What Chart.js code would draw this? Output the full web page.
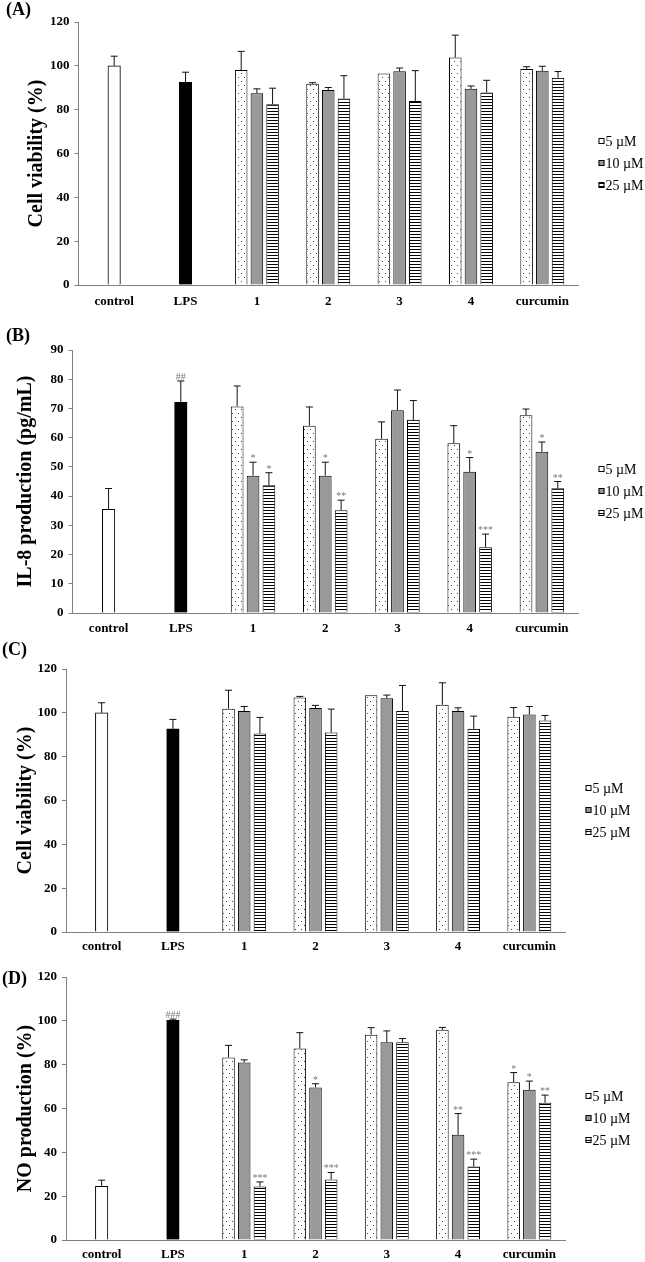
<!DOCTYPE html>
<html>
<head>
<meta charset="utf-8">
<script src="https://cdn.jsdelivr.net/npm/chart.js@4.4.1/dist/chart.umd.min.js"></script>
<style>
  html, body { margin: 0; padding: 0; background: #fff; }
  #wrap { position: relative; width: 645px; height: 1262px; }
  #wrap canvas { position: absolute; left: 0; top: 0; }
</style>
</head>
<body>
<div id="wrap">
  <canvas id="chartA" width="645" height="1262"></canvas>
  <canvas id="chartB" width="645" height="1262"></canvas>
  <canvas id="chartC" width="645" height="1262"></canvas>
  <canvas id="chartD" width="645" height="1262"></canvas>
</div>
<script>
const categories = ['control', 'LPS', '1', '2', '3', '4', 'curcumin'];
const doseLabels = ['5 µM', '10 µM', '25 µM'];

// (A) cell viability
const aRef = [100, 92.5];
const aRefErr = [4.4, 4.6];
const a5 = [98.1, 91.8, 96.5, 103.8, 98.6];
const a5Err = [8.5, 0.5, 0, 10.2, 1.0];
const a10 = [87.5, 89.0, 97.5, 89.5, 97.7];
const a10Err = [2.0, 1.1, 1.5, 1.3, 2.1];
const a25 = [82.5, 85.1, 84.0, 87.8, 94.6];
const a25Err = [7.3, 10.4, 13.8, 5.6, 2.8];

// (B) IL-8 production
const bRef = [35.5, 72.1];
const bRefErr = [7.1, 7.3];
const bRefSig = ['', '##'];
const b5 = [70.7, 64.1, 59.6, 58.1, 67.7];
const b5Err = [7.0, 6.4, 5.8, 6.0, 2.1];
const b5Sig = ['', '', '', '', ''];
const b10 = [47.0, 47.0, 69.4, 48.3, 55.2];
const b10Err = [4.6, 4.6, 6.9, 4.9, 3.3];
const b10Sig = ['*', '*', '', '*', '*'];
const b25 = [43.7, 35.2, 66.1, 22.5, 42.7];
const b25Err = [4.3, 3.4, 6.6, 4.5, 2.3];
const b25Sig = ['*', '**', '', '***', '**'];

// (C) cell viability
const cRef = [100, 92.7];
const cRefErr = [4.6, 4.3];
const c5 = [101.9, 107.0, 108.0, 103.7, 98.2];
const c5Err = [8.4, 0.5, 0, 10.0, 4.2];
const c10 = [100.8, 102.2, 106.6, 100.8, 99.2];
const c10Err = [2.1, 1.2, 1.5, 1.5, 3.7];
const c25 = [90.6, 91.0, 100.8, 92.7, 96.5];
const c25Err = [7.3, 10.7, 11.7, 5.8, 2.3];

// (D) NO production
const dRef = [24.5, 100.2];
const dRefErr = [2.8, 0.6];
const dRefSig = ['', '###'];
const d5 = [83.3, 87.4, 93.7, 95.9, 72.0];
const d5Err = [5.5, 7.2, 3.2, 1.1, 4.4];
const d5Sig = ['', '', '', '', '*'];
const d10 = [81.0, 69.6, 90.2, 48.0, 68.5];
const d10Err = [1.2, 1.7, 5.2, 9.7, 4.0];
const d10Sig = ['', '*', '', '**', '*'];
const d25 = [24.4, 27.6, 90.2, 33.5, 62.6];
const d25Err = [2.1, 3.2, 1.7, 3.4, 3.5];
const d25Sig = ['***', '***', '', '***', '**'];

const SERIF = '"Liberation Serif", "Times New Roman", serif';

function dotPattern(ctx) {
  const c = document.createElement('canvas');
  c.width = 6; c.height = 8;
  const g = c.getContext('2d');
  g.fillStyle = '#fff';
  g.fillRect(0, 0, 6, 8);
  g.fillStyle = '#444';
  g.fillRect(1, 1, 1, 1);
  g.fillRect(4, 5, 1, 1);
  return ctx.createPattern(c, 'repeat');
}

function stripePattern(ctx) {
  const c = document.createElement('canvas');
  c.width = 4; c.height = 3;
  const g = c.getContext('2d');
  g.fillStyle = '#fff';
  g.fillRect(0, 0, 4, 3);
  g.fillStyle = '#000';
  g.fillRect(0, 0, 4, 1);
  return ctx.createPattern(c, 'repeat');
}

// error bars, significance marks, panel letter and legend
const overlay = {
  id: 'overlay',
  afterDatasetsDraw(chart) {
    const ctx = chart.ctx;
    const yScale = chart.scales.y;
    ctx.save();
    chart.data.datasets.forEach((ds, i) => {
      const meta = chart.getDatasetMeta(i);
      meta.data.forEach((bar, j) => {
        const v = ds.data[j];
        if (v == null) return;
        const e = ds.errors[j] || 0;
        const yTop = yScale.getPixelForValue(v + e);
        if (e > 0) {
          ctx.strokeStyle = '#111';
          ctx.lineWidth = 1;
          ctx.beginPath();
          ctx.moveTo(bar.x, bar.y);
          ctx.lineTo(bar.x, yTop);
          ctx.moveTo(bar.x - 3.5, yTop);
          ctx.lineTo(bar.x + 3.5, yTop);
          ctx.stroke();
        }
        const s = ds.sig ? ds.sig[j] : '';
        if (s) {
          ctx.fillStyle = '#777';
          ctx.font = '10px ' + SERIF;
          ctx.textAlign = 'center';
          ctx.textBaseline = 'alphabetic';
          ctx.fillText(s, bar.x, yTop - 1);
        }
      });
    });
    ctx.restore();
  },
  afterDraw(chart, args, opts) {
    const ctx = chart.ctx;
    const area = chart.chartArea;
    ctx.save();
    ctx.fillStyle = '#000';
    ctx.font = 'bold 18px ' + SERIF;
    ctx.textAlign = 'left';
    ctx.textBaseline = 'middle';
    ctx.fillText(opts.letter, opts.letterX, opts.letterY);

    const x0 = area.right + 20.5;
    const mid = (area.top + area.bottom) / 2 + 9.5;
    const items = chart.data.datasets.filter(ds => ds.grouped !== false);
    ctx.font = '14px ' + SERIF;
    items.forEach((ds, k) => {
      const yy = Math.round(mid + (k - 1) * 22);
      ctx.fillStyle = ds.backgroundColor;
      ctx.fillRect(x0, yy - 3, 6, 6);
      ctx.strokeStyle = '#000';
      ctx.lineWidth = 1;
      ctx.strokeRect(x0 + 0.5, yy - 2.5, 5, 5);
      ctx.fillStyle = '#000';
      ctx.fillText(ds.label, x0 + 7, yy + 1);
    });
    ctx.restore();
  }
};

function buildChart(id, p) {
  const canvas = document.getElementById(id);
  const ctx = canvas.getContext('2d');
  const fills = [dotPattern(ctx), '#999999', stripePattern(ctx)];
  const pad = arr => [null, null].concat(arr);
  const series = [[p.v5, p.e5, p.s5], [p.v10, p.e10, p.s10], [p.v25, p.e25, p.s25]];

  const datasets = [{
    label: 'reference',
    data: p.ref.concat([null, null, null, null, null]),
    errors: p.refErr,
    sig: p.refSig || [],
    grouped: false,
    barThickness: 12.5,
    backgroundColor: ['#ffffff', '#000000'],
    borderColor: '#000',
    borderWidth: 1
  }];
  series.forEach((s, k) => {
    datasets.push({
      label: doseLabels[k],
      data: pad(s[0]),
      errors: pad(s[1]),
      sig: s[2] ? pad(s[2]) : [],
      backgroundColor: fills[k],
      borderColor: '#000',
      borderWidth: 1,
      categoryPercentage: 0.66,
      barPercentage: 0.8
    });
  });

  const L = p.layout;
  new Chart(ctx, {
    type: 'bar',
    data: { labels: categories, datasets },
    options: {
      responsive: false,
      animation: false,
      events: [],
      layout: {
        padding: {
          left: L.titleX - 12,
          right: 645 - L.right,
          top: L.top,
          bottom: 1262 - L.bottom - 30
        }
      },
      plugins: {
        legend: { display: false },
        tooltip: { enabled: false },
        overlay: { letter: L.letter, letterX: L.letterX, letterY: L.letterY }
      },
      scales: {
        x: {
          grid: { display: false, drawTicks: false },
          border: { display: true, color: '#808080', width: 1 },
          ticks: {
            color: '#000',
            padding: L.labelPad,
            font: { family: SERIF, size: 13, weight: 'bold' }
          },
          afterFit: sc => { sc.height = 30; }
        },
        y: {
          min: 0,
          max: p.yMax,
          ticks: {
            stepSize: p.yStep,
            color: '#000',
            padding: 5,
            font: { family: SERIF, size: 13, weight: 'bold' }
          },
          grid: { drawOnChartArea: false, drawTicks: true, tickLength: 4, color: '#808080' },
          border: { display: true, color: '#808080', width: 1 },
          title: {
            display: true,
            text: p.yTitle,
            color: '#000',
            padding: 0,
            font: { family: SERIF, size: 20, weight: 'bold' }
          },
          afterFit: sc => { sc.width = L.left - (L.titleX - 12); }
        }
      }
    },
    plugins: [overlay]
  });
}

buildChart('chartA', {
  ref: aRef, refErr: aRefErr,
  v5: a5, e5: a5Err, v10: a10, e10: a10Err, v25: a25, e25: a25Err,
  yMax: 120, yStep: 20, yTitle: 'Cell viability (%)',
  layout: { left: 78.5, right: 578, top: 22, bottom: 285, titleX: 37, labelPad: 9,
            letter: '(A)', letterX: 6, letterY: 10 }
});

buildChart('chartB', {
  ref: bRef, refErr: bRefErr, refSig: bRefSig,
  v5: b5, e5: b5Err, s5: b5Sig, v10: b10, e10: b10Err, s10: b10Sig, v25: b25, e25: b25Err, s25: b25Sig,
  yMax: 90, yStep: 10, yTitle: 'IL-8 production (pg/mL)',
  layout: { left: 72.5, right: 578, top: 350, bottom: 613, titleX: 26, labelPad: 8,
            letter: '(B)', letterX: 6, letterY: 336 }
});

buildChart('chartC', {
  ref: cRef, refErr: cRefErr,
  v5: c5, e5: c5Err, v10: c10, e10: c10Err, v25: c25, e25: c25Err,
  yMax: 120, yStep: 20, yTitle: 'Cell viability (%)',
  layout: { left: 66, right: 565, top: 669, bottom: 932, titleX: 26, labelPad: 7,
            letter: '(C)', letterX: 2, letterY: 650 }
});

buildChart('chartD', {
  ref: dRef, refErr: dRefErr, refSig: dRefSig,
  v5: d5, e5: d5Err, s5: d5Sig, v10: d10, e10: d10Err, s10: d10Sig, v25: d25, e25: d25Err, s25: d25Sig,
  yMax: 120, yStep: 20, yTitle: 'NO production (%)',
  layout: { left: 66, right: 565, top: 977, bottom: 1240, titleX: 26, labelPad: 7,
            letter: '(D)', letterX: 2, letterY: 979 }
});
</script>
</body>
</html>
